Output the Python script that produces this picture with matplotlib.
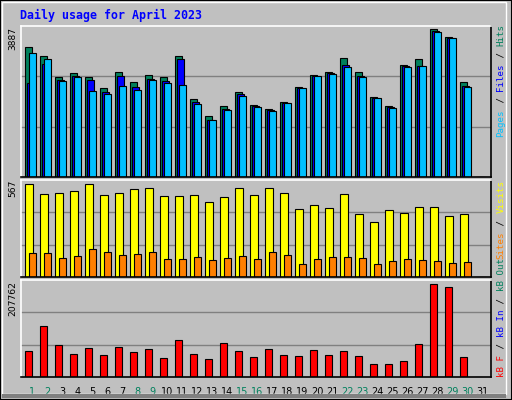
import numpy as np
import matplotlib
matplotlib.use("Agg")
import matplotlib.pyplot as plt
from matplotlib.patches import Rectangle

days = np.arange(1, 32)
weekend = [1, 2, 8, 9, 15, 16, 22, 23, 29, 30]

hits = [3343, 3109, 2565, 2669, 2565, 2280, 2695, 2436, 2617, 2565, 3109, 1995, 1581, 1840, 2177, 1866,
        1762, 1943, 2306, 2617, 2695, 3058, 2695, 2047, 1840, 2876, 3032, 3809, 3602, 2436, 0]
files = [2410, 2902, 2487, 2591, 2487, 2177, 2591, 2306, 2513, 2462, 3032, 1943, 1477, 1762, 2125, 1840,
         1736, 1917, 2280, 2591, 2669, 2876, 2591, 2021, 1814, 2850, 2850, 3757, 3576, 2332, 0]
pages = [3187, 3032, 2462, 2565, 2203, 2125, 2332, 2228, 2487, 2410, 2358, 1892, 1477, 1736, 2073, 1814,
         1710, 1917, 2280, 2591, 2643, 2824, 2565, 2021, 1788, 2824, 2850, 3731, 3576, 2306, 0]
visits = [542, 485, 489, 500, 542, 479, 489, 512, 518, 473, 473, 479, 436, 465, 518, 479,
          518, 489, 395, 418, 401, 483, 371, 319, 389, 377, 407, 407, 354, 366, 0]
sites = [143, 143, 113, 125, 166, 149, 131, 137, 149, 108, 108, 119, 102, 113, 125, 108,
         149, 131, 78, 108, 119, 119, 113, 78, 96, 108, 102, 96, 84, 90, 0]
kbytes = [55548, 109653, 68533, 49055, 62040, 46891, 64205, 53384, 59876, 40398, 79354, 49055, 38234,
          72861, 55548, 42563, 59876, 46891, 44727, 57712, 46891, 55548, 44727, 27413, 27413, 33906,
          70697, 198385, 191892, 42563, 0]
max_hits, max_visits, max_kb = 3887, 567, 207762

BG = "#c0c0c0"
GREEN = "#00805c"
BLUE = "#0000ff"
CYAN = "#00c0ff"
YELLOW = "#ffff00"
ORANGE = "#ff8000"
RED = "#ff0000"

W, H = 512, 400
fig = plt.figure(figsize=(W / 100, H / 100), dpi=100, facecolor=BG)

# outer 3d border
fig.patches.append(Rectangle((0, 0), 1, 1, transform=fig.transFigure, fill=False,
                             edgecolor="black", linewidth=1.5))
fig.patches.append(Rectangle((2 / W, 6 / H), 504 / W, 392 / H, transform=fig.transFigure,
                             fill=False, edgecolor="white", linewidth=1))
fig.patches.append(Rectangle((2 / W, 2 / H), 504 / W, 4 / H, transform=fig.transFigure,
                             facecolor="#808080", edgecolor="none"))


def panel(top, bottom):
    left, right = 21, 491
    ax = fig.add_axes([left / W, 1 - bottom / H, (right - left) / W, (bottom - top) / H])
    ax.set_facecolor(BG)
    ax.set_xlim(1 - 4 / 15, 1 + (right - 25) / 15)
    ax.set_xticks([])
    ax.set_yticks([])
    for s in ax.spines.values():
        s.set_linewidth(1.2)
    ax.spines["left"].set_color("white")
    ax.spines["top"].set_color("white")
    return ax


bw = 0.47
ekw = dict(edgecolor="black", linewidth=0.8, align="edge")

ax1 = panel(26, 177)
ax1.set_ylim(0, max_hits)
for g in (max_hits / 3, 2 * max_hits / 3):
    ax1.axhline(g, color="#808080", linewidth=1, zorder=0)
ax1.bar(days, hits, bw, color=GREEN, **ekw)
ax1.bar(days + 2 / 15, files, bw, color=BLUE, **ekw)
ax1.bar(days + 4 / 15, pages, bw, color=CYAN, **ekw)

ax2 = panel(180, 277)
ax2.set_ylim(0, max_visits)
for g in (max_visits / 3, 2 * max_visits / 3):
    ax2.axhline(g, color="#808080", linewidth=1, zorder=0)
ax2.bar(days, visits, 0.55, color=YELLOW, **ekw)
ax2.bar(days + 4 / 15, sites, bw, color=ORANGE, **ekw)

ax3 = panel(280, 377)
ax3.set_ylim(0, max_kb)
for g in (max_kb / 3, 2 * max_kb / 3):
    ax3.axhline(g, color="#808080", linewidth=1, zorder=0)
ax3.bar(days, kbytes, bw, color=RED, **ekw)

for d in days:
    ax3.text(d + 0.5, -0.1, str(d), transform=ax3.get_xaxis_transform(), ha="center", va="top",
             fontsize=7, color=GREEN if d in weekend else "black")

fig.text(20 / W, 1 - 15 / H, "Daily usage for April 2023", color=BLUE, fontsize=8.4,
         family="DejaVu Sans Mono", fontweight="bold", va="center", ha="left")

for label, top in (("3887", 27), ("567", 180), ("207762", 281)):
    fig.text(13 / W, 1 - top / H, label, rotation=90, fontsize=6.6, ha="center", va="top")


def side_label(parts, bottom_px, step=5.7):
    y = bottom_px
    for txt, col in parts:
        fig.text(501 / W, 1 - y / H, txt, rotation=90, color=col, fontsize=6.6,
                 family="DejaVu Sans Mono", ha="center", va="bottom")
        y -= step * len(txt)


side_label([("Pages", CYAN), (" / ", "black"), ("Files", BLUE), (" / ", "black"), ("Hits", GREEN)], 137)
side_label([("Sites", ORANGE), (" / ", "black"), ("Visits", YELLOW)], 259)
side_label([("kB F", RED), (" / ", "black"), ("kB In", BLUE), (" / ", "black"), ("kB Out", GREEN)], 377)

fig.savefig("out.png", dpi=100, facecolor=BG)
